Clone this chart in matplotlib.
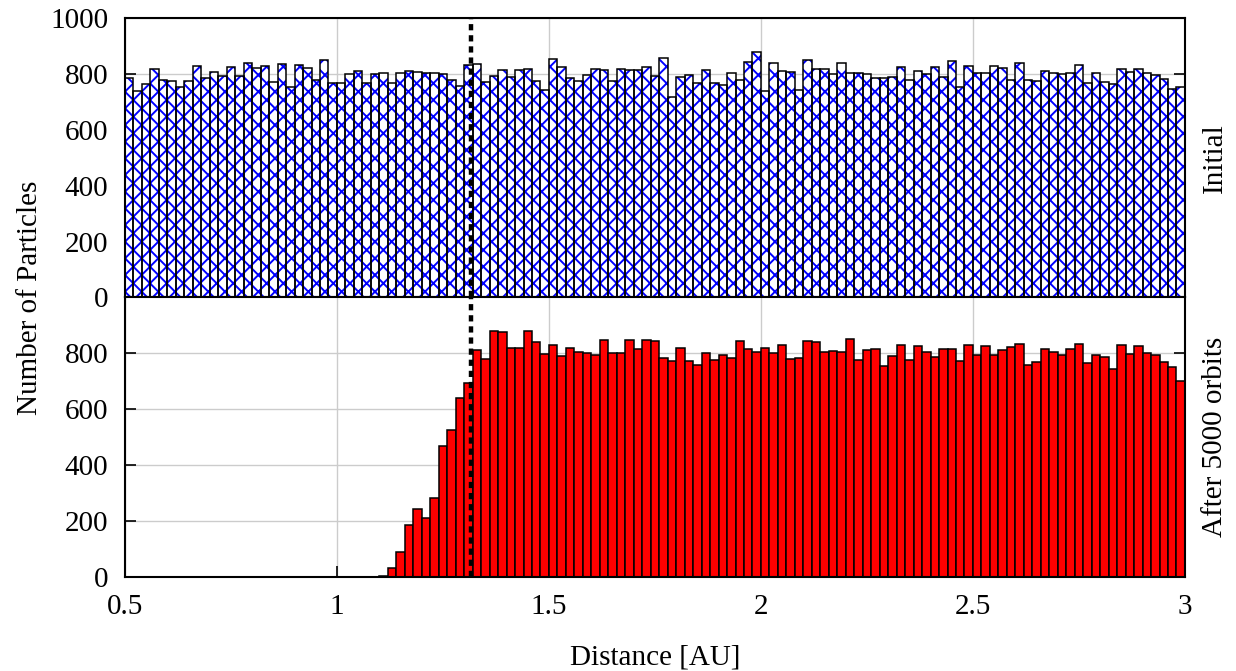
import numpy as np
import matplotlib
matplotlib.use('Agg')
import matplotlib.pyplot as plt

plt.rcParams['font.family'] = ['Liberation Serif', 'DejaVu Serif']
plt.rcParams['font.size'] = 21
plt.rcParams['hatch.linewidth'] = 1.4

# Histogram bins: 0.5 - 3.0 AU, width 0.02 AU
bin_lo, bin_hi, n_bins = 0.5, 3.0, 125
r_split = 1.317  # dashed marker

initial_counts = [
    785, 737, 763, 817, 777, 773, 752, 774, 827, 785,
    806, 792, 824, 792, 839, 820, 827, 770, 835, 752,
    831, 820, 777, 849, 767, 767, 799, 810, 767, 799,
    802, 767, 804, 810, 805, 804, 804, 799, 777, 757,
    831, 835, 770, 792, 813, 788, 813, 819, 773, 744,
    852, 824, 785, 773, 795, 817, 813, 773, 819, 813,
    815, 824, 793, 856, 719, 788, 795, 769, 813, 769,
    761, 802, 777, 842, 877, 737, 838, 810, 806, 744,
    849, 817, 819, 799, 838, 802, 802, 799, 785, 785,
    788, 824, 777, 810, 799, 824, 788, 845, 752, 827,
    802, 802, 827, 820, 777, 838, 777, 774, 810, 802,
    799, 802, 831, 767, 802, 770, 763, 817, 806, 819,
    802, 795, 781, 745, 752,
]

final_counts = [0] * 30 + [
    3, 33, 89, 185, 242, 211, 282, 470, 527, 639,
    695, 811, 779, 880, 875, 821, 821, 879, 839, 799,
    831, 790, 821, 804, 802, 794, 847, 800, 800, 848,
    815, 848, 846, 785, 773, 820, 774, 760, 800, 776,
    793, 783, 844, 814, 806, 820, 802, 831, 780, 783,
    844, 840, 805, 808, 805, 850, 777, 812, 815, 754,
    790, 829, 776, 827, 805, 788, 815, 817, 771, 830,
    793, 827, 793, 813, 824, 835, 758, 769, 817, 805,
    795, 815, 833, 765, 794, 786, 744, 831, 798, 827,
    802, 796, 770, 751, 700,
]

edges = np.linspace(bin_lo, bin_hi, n_bins + 1)
width = edges[1] - edges[0]

fig, (ax1, ax2) = plt.subplots(2, 1, sharex=True, figsize=(12.36, 6.71), dpi=100)
fig.subplots_adjust(left=0.1011, right=0.9587, top=0.9732, bottom=0.1401, hspace=0)

# top: hatched blue bars with black outline
ax1.bar(edges[:-1], initial_counts, width=width, align='edge',
        facecolor='white', edgecolor='#0000ff', hatch='xx', linewidth=0, zorder=2)
ax1.bar(edges[:-1], initial_counts, width=width, align='edge',
        facecolor='none', edgecolor='black', linewidth=1.1, zorder=3)

# bottom: solid red bars
ax2.bar(edges[:-1], final_counts, width=width, align='edge',
        facecolor='#ff0000', edgecolor='black', linewidth=1.1, zorder=2)

for ax in (ax1, ax2):
    ax.set_xlim(bin_lo, bin_hi)
    ax.set_ylim(0, 1000)
    ax.grid(True, color='#cccccc', linewidth=1.0, zorder=0)
    ax.set_axisbelow(True)
    ax.axvline(r_split, color='black', linewidth=3.2, linestyle=(0, (1.4, 1.1)), zorder=5)
    ax.tick_params(direction='in', length=8, width=1.2, right=True, top=False,
                   labelsize=21, pad=12)
    for s in ax.spines.values():
        s.set_linewidth(1.5)

ax1.set_yticks(np.arange(0, 1001, 200))
ax2.set_yticks(np.arange(0, 801, 200))
ax1.tick_params(axis='x', bottom=False)
ax2.set_xticks([0.5, 1, 1.5, 2, 2.5, 3])
ax2.set_xticklabels(['0.5', '1', '1.5', '2', '2.5', '3'])

ax1.yaxis.set_label_position('right')
ax1.set_ylabel('Initial', labelpad=12)
ax2.yaxis.set_label_position('right')
ax2.set_ylabel('After 5000 orbits', labelpad=12)

ax2.set_xlabel('Distance [AU]', labelpad=18)
fig.text(0.024, (0.9732 + 0.1401) / 2, 'Number of Particles', rotation=90,
         va='center', ha='center', fontsize=21)

fig.savefig('out.png', dpi=100)
